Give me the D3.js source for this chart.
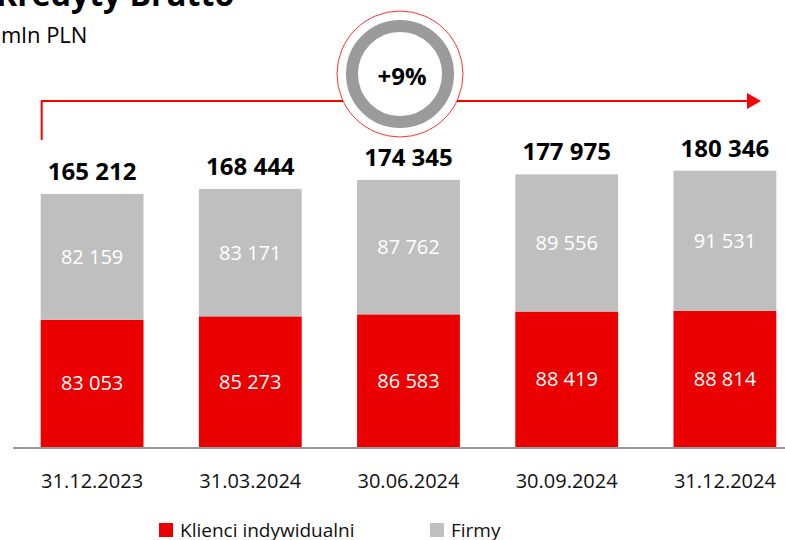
<!DOCTYPE html>
<html>
<head>
<meta charset="utf-8">
<script src="https://cdn.jsdelivr.net/npm/d3@7"></script>
<style>
  body { margin: 0; background: #fff; }
  svg { font-family: "Open Sans", "Noto Sans", sans-serif; display: block; }
</style>
</head>
<body>
<div id="chart"></div>
<script>
// Data (mln PLN)
const dates = ["31.12.2023", "31.03.2024", "30.06.2024", "30.09.2024", "31.12.2024"];
const klienci = [83053, 85273, 86583, 88419, 88814];
const firmy = [82159, 83171, 87762, 89556, 91531];
const totals = [165212, 168444, 174345, 177975, 180346];
const growthLabel = "+9%";
const seriesNames = ["Klienci indywidualni", "Firmy"];

const width = 785;
const height = 540;
const red = "#ea0000";
const grey = "#bfbfbf";

const fmt = v => d3.format(",")(v).replace(/,/g, " ");

const svg = d3.select("#chart")
    .append("svg")
    .attr("width", width)
    .attr("height", height);

// scales
const x = d3.scaleBand()
    .domain(dates)
    .range([13, 804])
    .paddingInner(0.35)
    .paddingOuter(0.175);

const y = d3.scaleLinear()
    .domain([0, 200000])
    .range([447, 140.6]);

// title (partly cut off at the top)
svg.append("text")
    .attr("x", -4)
    .attr("y", 6)
    .style("font-size", "32px")
    .style("font-weight", "bold")
    .text("Kredyty Brutto");

svg.append("text")
    .attr("x", 1)
    .attr("y", 43)
    .style("font-size", "22px")
    .text("mln PLN");

// stacked bars
const stack = d3.stack().keys(["k", "f"]);
const rows = dates.map((d, i) => ({ date: d, k: klienci[i], f: firmy[i] }));
const layers = stack(rows);
const colors = [red, grey];

layers.forEach((layer, li) => {
    const g = svg.append("g");
    g.selectAll("rect")
        .data(layer)
        .enter().append("rect")
        .attr("x", d => x(d.data.date))
        .attr("width", x.bandwidth())
        .attr("y", d => y(d[1]))
        .attr("height", d => y(d[0]) - y(d[1]))
        .attr("fill", colors[li]);

    g.selectAll("text")
        .data(layer)
        .enter().append("text")
        .attr("x", d => x(d.data.date) + x.bandwidth() / 2)
        .attr("y", d => (y(d[0]) + y(d[1])) / 2)
        .attr("dy", "0.35em")
        .attr("text-anchor", "middle")
        .attr("fill", "#fff")
        .style("font-size", "20px")
        .text(d => fmt(d[1] - d[0]));
});

// totals above bars
svg.append("g").selectAll("text")
    .data(totals)
    .enter().append("text")
    .attr("x", (d, i) => x(dates[i]) + x.bandwidth() / 2)
    .attr("y", d => y(d) - 14)
    .attr("text-anchor", "middle")
    .style("font-size", "24px")
    .style("font-weight", "bold")
    .attr("fill", "#000")
    .text(d => fmt(d));

// baseline
svg.append("line")
    .attr("x1", 13)
    .attr("x2", width)
    .attr("y1", y(0) + 1)
    .attr("y2", y(0) + 1)
    .attr("stroke", "#9a9a9a")
    .attr("stroke-width", 2);

// x axis labels
svg.append("g").selectAll("text")
    .data(dates)
    .enter().append("text")
    .attr("x", d => x(d) + x.bandwidth() / 2)
    .attr("y", 488)
    .attr("text-anchor", "middle")
    .style("font-size", "20px")
    .attr("fill", "#111")
    .text(d => d);

// growth arrow
const arrowY = 101;
const arrowStart = x(dates[0]) + 1;
const arrowEnd = 748;
svg.append("path")
    .attr("d", `M${arrowStart},140 V${arrowY} H${arrowEnd}`)
    .attr("fill", "none")
    .attr("stroke", "#ff0000")
    .attr("stroke-width", 2);
svg.append("path")
    .attr("d", `M${arrowEnd - 1},${arrowY - 8} L${arrowEnd + 13},${arrowY} L${arrowEnd - 1},${arrowY + 8} Z`)
    .attr("fill", "#ff0000");

// badge
const cx = 400, cy = 74;
svg.append("circle")
    .attr("cx", cx).attr("cy", cy).attr("r", 63)
    .attr("fill", "#fff")
    .attr("stroke", "#ff3030")
    .attr("stroke-width", 1);
svg.append("circle")
    .attr("cx", cx).attr("cy", cy).attr("r", 48)
    .attr("fill", "none")
    .attr("stroke", "#9b9b9b")
    .attr("stroke-width", 12);
svg.append("text")
    .attr("x", cx + 2)
    .attr("y", cy + 11)
    .attr("text-anchor", "middle")
    .style("font-size", "24px")
    .style("font-weight", "bold")
    .text(growthLabel);

// legend
const legendX = [159, 430];
const legend = svg.append("g").selectAll("g")
    .data(seriesNames)
    .enter().append("g")
    .attr("transform", (d, i) => `translate(${legendX[i]},523)`);
legend.append("rect")
    .attr("width", 14)
    .attr("height", 14)
    .attr("fill", (d, i) => colors[i]);
legend.append("text")
    .attr("x", 21)
    .attr("y", 14)
    .style("font-size", "19px")
    .attr("fill", "#111")
    .text(d => d);
</script>
</body>
</html>
